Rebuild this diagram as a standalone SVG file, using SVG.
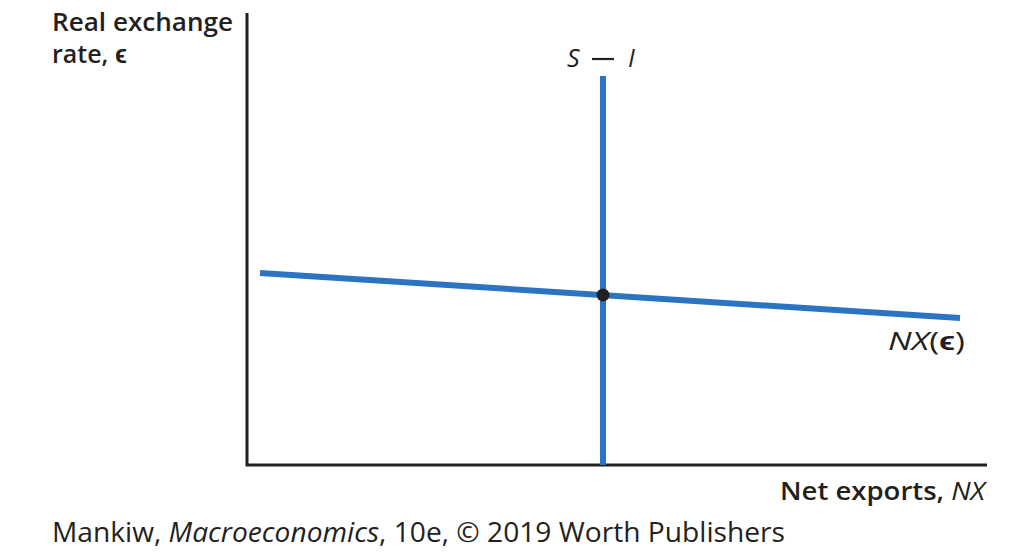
<svg xmlns="http://www.w3.org/2000/svg" width="1024" height="554" viewBox="0 0 1024 554">
<style>
.t{font-family:"Open Sans","Liberation Sans",sans-serif;fill:#231f20}
.lab{font-size:25px;font-weight:600}
.ax{stroke:#231f20;stroke-width:3;fill:none}
.curve{stroke:#2a74c1;stroke-width:6;fill:none}
</style>
<rect width="1024" height="554" fill="#fff"/>
<g id="axes">
<path class="ax" d="M247,13 V465 H987"/>
</g>
<g id="connectors">
<line id="SI" class="curve" x1="603" y1="76" x2="603" y2="465"/>
<line id="NX" class="curve" x1="260" y1="273" x2="960" y2="318"/>
</g>
<g id="equilibrium">
<circle cx="603" cy="295" r="6.5" fill="#231f20"/>
</g>
<g id="labels">
<text class="t lab" x="52" y="31" textLength="181" lengthAdjust="spacingAndGlyphs">Real exchange</text>
<text class="t lab" x="52" y="63">rate, <tspan font-weight="600">ϵ</tspan></text>
<text class="t" x="567" y="67" font-size="25" font-style="italic">S</text>
<line x1="592" y1="59" x2="614" y2="59" stroke="#231f20" stroke-width="2.2"/>
<text class="t" x="628" y="67" font-size="25" font-style="italic">I</text>
<text class="t" x="888" y="350" font-size="25" font-style="italic" textLength="77" lengthAdjust="spacingAndGlyphs">NX<tspan font-style="normal">(</tspan><tspan font-style="normal" font-weight="700">ϵ</tspan><tspan font-style="normal">)</tspan></text>
<text class="t lab" x="780" y="500" textLength="205" lengthAdjust="spacingAndGlyphs">Net exports, <tspan font-style="italic" font-weight="400">NX</tspan></text>
<text class="t" x="52" y="542" font-size="27" textLength="733" lengthAdjust="spacingAndGlyphs">Mankiw, <tspan font-style="italic">Macroeconomics</tspan>, 10e, © 2019 Worth Publishers</text>
</g>
</svg>
